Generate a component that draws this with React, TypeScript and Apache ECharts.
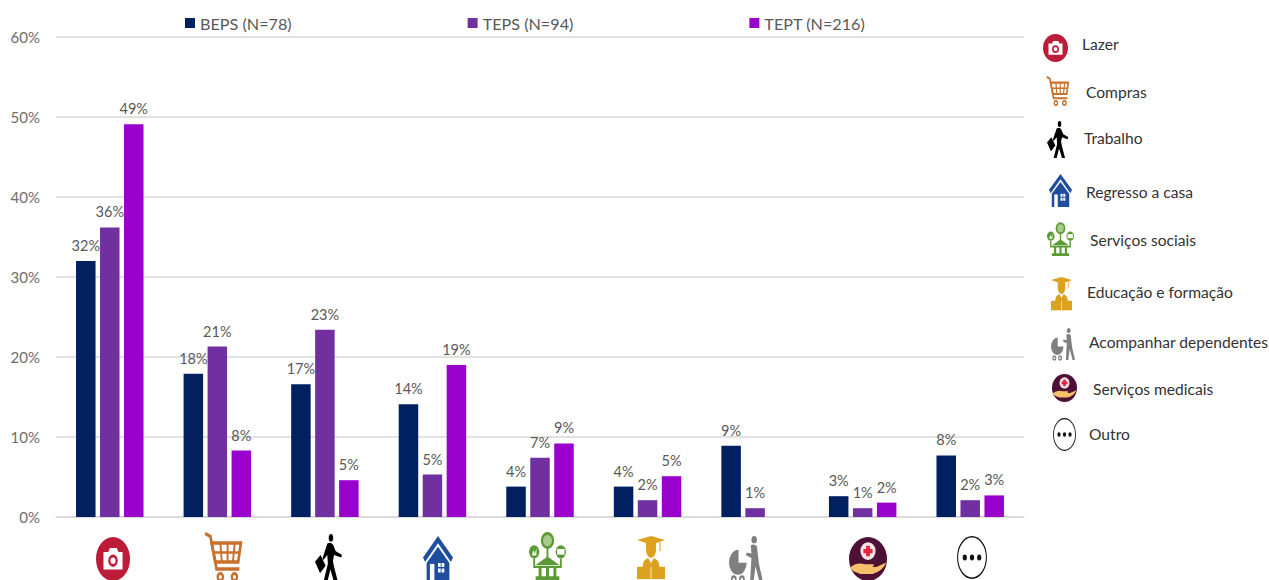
import React, { useEffect, useRef } from "react";
import * as echarts from "echarts";

const categories = [
  "Lazer", "Compras", "Trabalho", "Regresso a casa", "Serviços sociais",
  "Educação e formação", "Acompanhar dependentes", "Serviços medicais", "Outro",
];
const seriesNames = ["BEPS (N=78)", "TEPS (N=94)", "TEPT (N=216)"];
const beps = [32.0, 17.9, 16.6, 14.1, 3.8, 3.8, 8.9, 2.6, 7.7];
const teps = [36.2, 21.3, 23.4, 5.3, 7.4, 2.1, 1.1, 1.1, 2.1];
const tept = [49.1, 8.3, 4.6, 19.0, 9.2, 5.1, null, 1.8, 2.7];
const colors = ["#002060", "#7030A0", "#9900CC"];

const circle = (cx: number, cy: number, r: number) =>
  `M${cx - r} ${cy}A${r} ${r} 0 1 1 ${cx + r} ${cy}A${r} ${r} 0 1 1 ${cx - r} ${cy}Z`;

type Part = { d: string; fill?: string; stroke?: string; w?: number };
const RED = "#BC1C38", ORANGE = "#C9702C", BLUE = "#1F4E9E", GREEN = "#5B9A35", GOLD = "#DDA11F", GREY = "#7F7F7F", PLUM = "#4F1035";

const iconParts: Part[][] = [
  // camera
  [
    { d: circle(50, 50, 50), fill: RED },
    { d: "M22 34H36L41 25H61L66 34H78V74H22Z", fill: "#fff" },
    { d: circle(50, 54, 14), fill: RED },
    { d: circle(50, 54, 7.5), fill: "#fff" },
  ],
  // cart
  [
    { d: "M3 3L17 9L33 74H93", stroke: ORANGE, w: 7 },
    { d: "M20 22H97L90 60H30Z", stroke: ORANGE, w: 7 },
    { d: "M43 22L47 60M62 22V60M81 22L76 60M25 41H93", stroke: ORANGE, w: 5 },
    { d: circle(43, 90, 7), stroke: ORANGE, w: 6 },
    { d: circle(80, 90, 7), stroke: ORANGE, w: 6 },
  ],
  // walker
  [
    { d: circle(57, 8, 8), fill: "#000" },
    { d: "M44 20Q58 15 66 24L74 36L96 43L94 49L68 44L64 56L68 68L82 100H68L55 74L44 100H30L46 62L44 44L30 54L27 50Z", fill: "#000" },
    { d: "M0 58L20 44L38 66L18 82Z", fill: "#000" },
  ],
  // house
  [
    { d: "M50 0L100 48L93 58L50 16L7 58L0 48Z", fill: BLUE },
    { d: "M50 24L88 60V100H12V60Z", fill: BLUE },
    { d: "M23 62H38V100H23Z", fill: "#fff" },
    { d: "M50 60H59V69H50ZM62 60H71V69H62ZM50 72H59V81H50ZM62 72H71V81H62Z", fill: "#fff" },
  ],
  // social services
  [
    { d: circle(50, 16, 15), stroke: GREEN, w: 6, fill: "#A9CC8E" },
    { d: circle(14, 40, 14), fill: GREEN },
    { d: circle(86, 40, 14), fill: GREEN },
    { d: "M14 54V72H86V54M50 32V52", stroke: GREEN, w: 5 },
    { d: "M50 50L82 68H18Z", fill: GREEN },
    { d: "M26 70H34V92H26ZM46 70H54V92H46ZM66 70H74V92H66ZM18 92H82V100H18Z", fill: GREEN },
    { d: "M76 34H96V46H76Z", fill: "#fff" },
    { d: "M8 48L12 36L16 44L20 32V48Z", fill: "#fff" },
  ],
  // education
  [
    { d: "M50 0L100 9L50 20L0 9Z", fill: GOLD },
    { d: "M80 13H84V34H80Z", fill: GOLD },
    { d: "M32 16H68V32Q66 48 50 50Q34 48 32 32Z", fill: GOLD },
    { d: "M20 68Q22 54 40 50L50 62L60 50Q78 54 80 68V76H20Z", fill: GOLD },
    { d: "M0 70H100V98H0Z", fill: GOLD },
    { d: "M50 70V100", stroke: "#fff", w: 2 },
  ],
  // accompany dependants
  [
    { d: circle(74, 8, 8), fill: GREY },
    { d: "M64 20Q74 16 82 22L88 60L100 100H90L78 66L72 100H62L66 48L50 42L52 36L66 38Z", fill: GREY },
    { d: "M0 58A28 28 0 0 1 28 30V58H52A26 26 0 0 1 0 58Z", fill: GREY },
    { d: circle(14, 94, 6), stroke: GREY, w: 5 },
    { d: circle(38, 94, 6), stroke: GREY, w: 5 },
  ],
  // medical
  [
    { d: circle(50, 50, 50), fill: PLUM },
    { d: circle(50, 32, 20), fill: "#F3E6EA" },
    { d: "M45 20H55V27H62V37H55V44H45V37H38V27H45Z", fill: "#E3243B" },
    { d: "M2 70Q20 56 42 62H64Q68 66 60 68L72 68L98 58Q88 78 62 84H30L12 78Z", fill: "#F5C26B" },
  ],
  // other
  [
    { d: circle(50, 50, 48), fill: "#fff", stroke: "#111", w: 3.5 },
    { d: circle(26, 50, 7), fill: "#111" },
    { d: circle(50, 50, 7), fill: "#111" },
    { d: circle(74, 50, 7), fill: "#111" },
  ],
];

// x, y, width, height of each pictogram under the axis and in the key
const axisIconBoxes = [
  [96, 537, 34, 44], [204, 532, 38, 50], [315, 534, 28, 48], [423, 536, 30, 45], [529, 533, 37, 47],
  [637, 536, 28, 44], [729, 536, 34, 46], [849, 537, 38, 44], [957, 536, 30, 43],
];
const keyIconBoxes = [
  [1043, 34, 25, 28], [1046, 76, 23, 30], [1047, 121, 22, 37], [1049, 174, 23, 33], [1047, 223, 27, 33],
  [1051, 277, 21, 34], [1051, 328, 24, 32], [1052, 374, 25, 28], [1053, 418, 23, 33],
];
const keyTextPos = [
  [1082, 44], [1086, 92], [1084, 138], [1086, 192], [1090, 240],
  [1087, 292], [1089, 342], [1093, 389], [1089, 434],
];

const shapeNames: string[][] = iconParts.map((parts, i) =>
  parts.map((p, j) => {
    const name = `icon_${i}_${j}`;
    echarts.graphic.registerShape(name, echarts.graphic.extendPath(p.d, {}) as any);
    return name;
  })
);

function iconGraphic(i: number, box: number[]) {
  return {
    type: "group",
    x: box[0],
    y: box[1],
    scaleX: box[2] / 100,
    scaleY: box[3] / 100,
    silent: true,
    children: iconParts[i].map((p, j) => ({
      type: shapeNames[i][j],
      silent: true,
      style: {
        fill: p.fill ?? "none",
        stroke: p.stroke ?? "none",
        lineWidth: p.w ?? 0,
      },
    })),
  };
}

export default function App() {
  const ref = useRef<HTMLDivElement>(null);
  useEffect(() => {
    const chart = echarts.init(ref.current!, undefined, { renderer: "svg" });
    const FONT = "Lato";
    const bar = (name: string, data: (number | null)[], color: string) => ({
      name,
      type: "bar",
      data,
      barWidth: 19.5,
      barGap: "23%",
      itemStyle: { color },
      label: {
        show: true,
        position: "top",
        distance: 8,
        color: "#595959",
        fontFamily: FONT,
        fontSize: 14.5,
        formatter: (p: any) => `${Math.round(p.value)}%`,
      },
    });
    chart.setOption({
      animation: false,
      backgroundColor: "#fff",
      textStyle: { fontFamily: FONT },
      grid: { left: 56, right: 245, top: 37, bottom: 63 },
      legend: {
        left: 180,
        top: 10,
        itemWidth: 10,
        itemHeight: 10,
        itemGap: 176,
        icon: "rect",
        textStyle: { color: "#595959", fontFamily: FONT, fontSize: 16.2 },
        data: seriesNames,
      },
      xAxis: {
        type: "category",
        data: categories,
        axisLine: { lineStyle: { color: "#D9D9D9", width: 1.5 } },
        axisTick: { show: false },
        axisLabel: { show: false },
      },
      yAxis: {
        type: "value",
        min: 0,
        max: 60,
        interval: 10,
        axisLine: { show: false },
        axisTick: { show: false },
        splitLine: { lineStyle: { color: "#D9D9D9", width: 1.5 } },
        axisLabel: { formatter: "{value}%", color: "#6E6E6E", fontFamily: FONT, fontSize: 15, margin: 16 },
      },
      series: [bar(seriesNames[0], beps, colors[0]), bar(seriesNames[1], teps, colors[1]), bar(seriesNames[2], tept, colors[2])],
      graphic: [
        ...axisIconBoxes.map((b, i) => iconGraphic(i, b)),
        ...keyIconBoxes.map((b, i) => iconGraphic(i, b)),
        ...categories.map((c, i) => ({
          type: "text",
          x: keyTextPos[i][0],
          y: keyTextPos[i][1],
          silent: true,
          style: { text: c, fill: "#333333", font: `15.6px ${FONT}`, verticalAlign: "middle", align: "left" },
        })),
      ],
    });
    return () => chart.dispose();
  }, []);
  return <div ref={ref} style={{ position: "absolute", left: 0, top: 0, width: 1269, height: 580, overflow: "hidden" }} />;
}
